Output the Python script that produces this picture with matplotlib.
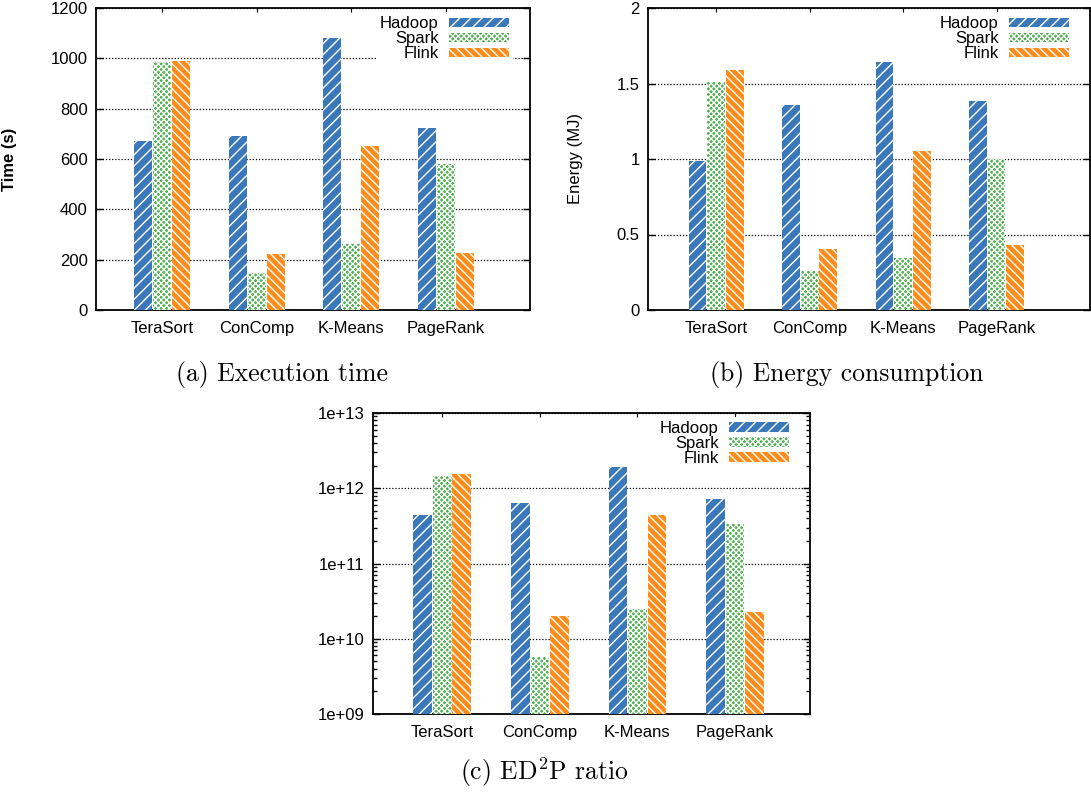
import matplotlib
matplotlib.use("Agg")
import matplotlib.pyplot as plt
import numpy as np
from matplotlib.ticker import FixedLocator, FuncFormatter, LogLocator, NullFormatter

plt.rcParams['font.family'] = ['Liberation Sans', 'DejaVu Sans']
plt.rcParams['mathtext.fontset'] = 'cm'
plt.rcParams['hatch.linewidth'] = 1.0

categories = ["TeraSort", "ConComp", "K-Means", "PageRank"]
frameworks = ["Hadoop", "Spark", "Flink"]

time_hadoop = [671, 691, 1080, 723]
time_spark = [987, 146, 263, 581]
time_flink = [991, 223, 650, 225]

energy_hadoop = [0.986, 1.355, 1.642, 1.386]
energy_spark = [1.512, 0.256, 0.347, 0.997]
energy_flink = [1.589, 0.402, 1.050, 0.431]

ed2p_hadoop = [4.4e11, 6.4e11, 1.92e12, 7.2e11]
ed2p_spark = [1.45e12, 5.75e9, 2.47e10, 3.34e11]
ed2p_flink = [1.54e12, 2.01e10, 4.4e11, 2.25e10]

colors = ["#3b78b9", "#4cae4c", "#ff8c1a"]
hatches = ["///", "xxxxxx", "\\\\\\\\"]

W, H = 1091, 794
fig = plt.figure(figsize=(W / 100, H / 100), dpi=100)


def rect(l, r, t, b):
    return [l / W, (H - b) / H, (r - l) / W, (b - t) / H]


def panel(r, xlim, series, log=False, ylim=None, yticks=None, ylabel=None, bold=False, labx=-0.17):
    ax = fig.add_axes(r)
    x = np.arange(len(categories))
    offs = [-0.2, 0.0, 0.2]
    for s, name, c, h, o in zip(series, frameworks, colors, hatches, offs):
        ax.bar(x + o, s, width=0.19, color=c, edgecolor="white", linewidth=0,
               hatch=h, label=name, zorder=3)
    if log:
        ax.set_yscale("log")
        ax.set_ylim(1e9, 1e13)
        ax.yaxis.set_major_locator(FixedLocator([1e9, 1e10, 1e11, 1e12, 1e13]))
        ax.yaxis.set_major_formatter(FuncFormatter(lambda v, p: "1e+%02d" % int(round(np.log10(v)))))
        ax.yaxis.set_minor_locator(LogLocator(base=10, subs=np.arange(2, 10)))
        ax.yaxis.set_minor_formatter(NullFormatter())
    else:
        ax.set_ylim(*ylim)
        ax.set_yticks(yticks)
        ax.yaxis.set_major_formatter(FuncFormatter(lambda v, p: ("%g" % v)))
    ax.set_xlim(*xlim)
    ax.set_xticks(x)
    ax.set_xticklabels(categories)
    ax.tick_params(axis="both", which="both", direction="in", top=True, right=True,
                   labelsize=12)
    ax.tick_params(axis="y", which="major", length=5, width=1, pad=6)
    ax.tick_params(axis="y", which="minor", length=3, width=1)
    ax.tick_params(axis="x", which="major", length=3, pad=8)
    ax.yaxis.grid(True, which="major", linestyle=(0, (1, 1.5)), color="black", linewidth=0.9, zorder=1)
    for sp in ax.spines.values():
        sp.set_linewidth(1.3)
    if ylabel:
        ax.set_ylabel(ylabel, fontsize=12, fontweight=("bold" if bold else "normal"))
        ax.yaxis.set_label_coords(labx, 0.5)
    leg = ax.legend(loc="upper right",
                    bbox_to_anchor=(1 - 17 / (r[2] * W), 1.0 - 4 / (r[3] * H)),
                    markerfirst=False, fontsize=12, handlelength=3.6, handleheight=0.5,
                    labelspacing=0.0, handletextpad=0.6, borderpad=0.25, borderaxespad=0,
                    frameon=True, fancybox=False, framealpha=1, facecolor="white",
                    edgecolor="none")
    leg.set_zorder(5)
    return ax


panel(rect(96, 530, 8, 310), (-0.70, 3.89), [time_hadoop, time_spark, time_flink],
      ylim=(0, 1200), yticks=[0, 200, 400, 600, 800, 1000, 1200], ylabel="Time (s)",
      bold=True, labx=-0.182)
panel(rect(648, 1090, 8, 310), (-0.73, 4.0), [energy_hadoop, energy_spark, energy_flink],
      ylim=(0, 2), yticks=[0, 0.5, 1, 1.5, 2], ylabel="Energy (MJ)", labx=-0.147)
panel(rect(373, 810, 413, 714), (-0.71, 3.77), [ed2p_hadoop, ed2p_spark, ed2p_flink], log=True)

cap = dict(family="cmr10", fontsize=18.5, ha="center", va="center")
fig.text(282 / W, 1 - 374 / H, "(a) Execution time", **cap)
fig.text(847 / W, 1 - 374 / H, "(b) Energy consumption", **cap)
fig.text(544 / W, 1 - 772 / H, r"(c) ED$^{2}$P ratio", **cap)

fig.savefig("out.png", dpi=100)
